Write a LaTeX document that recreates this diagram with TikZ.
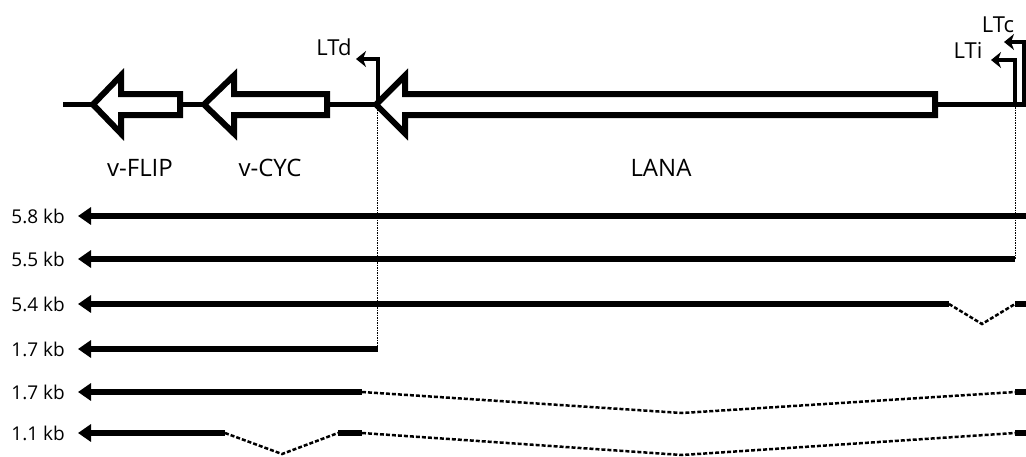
\documentclass[tikz,border=0pt]{standalone}
\usepackage{fontspec}
\setmainfont{Open Sans}
\usetikzlibrary{arrows.meta}
\tikzstyle{backbone} = [
    line width=5pt
]
\tikzstyle{gene} = [
    line width=6pt,
    miter limit=10,
    draw=black,
    fill=white
]
\tikzstyle{promoter} = [
    line width=4.5pt,
    -{Stealth[length=10pt,width=16pt,inset=3pt]}
]
\tikzstyle{transcript} = [
    line width=6pt,
    {Triangle[length=13pt,width=17pt]}-
]
\tikzstyle{exon} = [line width=6pt]
\tikzstyle{intron} = [
    line width=2.5pt,
    dash pattern=on 4pt off 2pt
]
\tikzstyle{guide} = [
    line width=0.9pt,
    dash pattern=on 1.5pt off 1pt
]
\tikzstyle{genelabel} = [
    font=\fontsize{24}{28}\selectfont,
    anchor=base,
    inner sep=0pt
]
\tikzstyle{promlabel} = [
    font=\fontsize{22}{26}\selectfont,
    anchor=base,
    inner sep=0pt
]
\tikzstyle{sizelabel} = [
    font=\fontsize{19}{22}\selectfont,
    anchor=base east,
    inner sep=0pt
]

\begin{document}
\begin{tikzpicture}[x=1pt, y=-1pt]

\useasboundingbox (0,0) rectangle (1026,456);

% genome backbone and genes
\draw [backbone] (63,104.5) -- (1030,104.5);

\draw [gene] (93,104.5) -- (121,75.5) -- (121,94) -- (180,94)
    -- (180,115) -- (121,115) -- (121,133.5) -- cycle;
\draw [gene] (204,104.5) -- (234,75.5) -- (234,94) -- (327,94)
    -- (327,115) -- (234,115) -- (234,133.5) -- cycle;
\draw [gene] (376,104.5) -- (405,75.5) -- (405,94) -- (935,94)
    -- (935,115) -- (405,115) -- (405,133.5) -- cycle;

\node (vflip) [genelabel] at (140,176) {v-FLIP};
\node (vcyc) [genelabel] at (270,176) {v-CYC};
\node (lana) [genelabel] at (661,176) {LANA};

% promoters
\draw [promoter] (378,104.5) -- (378,59) -- (356,59);
\node (ltd) [promlabel] at (334,55) {LTd};

\draw [promoter] (1015,104.5) -- (1015,60) -- (991,60);
\node (lti) [promlabel] at (968,58) {LTi};

\draw [promoter] (1024,104.5) -- (1024,42) -- (1004,42);
\node (ltc) [promlabel] at (998,32) {LTc};

% guides from promoters to transcript ends
\draw [guide] (377,104.5) -- (377,349);
\draw [guide] (1015,104.5) -- (1015,259);

% transcripts
\node (t58) [sizelabel] at (65,223) {5.8 kb};
\draw [transcript] (78,216) -- (1030,216);

\node (t55) [sizelabel] at (65,266) {5.5 kb};
\draw [transcript] (78,259) -- (1015,259);

\node (t54) [sizelabel] at (65,311) {5.4 kb};
\draw [transcript] (78,304) -- (949,304);
\draw [intron] (949,304) -- (982,324) -- (1015,304);
\draw [exon] (1015,304) -- (1030,304);

\node (t17a) [sizelabel] at (65,356) {1.7 kb};
\draw [transcript] (78,349) -- (378,349);

\node (t17b) [sizelabel] at (65,399) {1.7 kb};
\draw [transcript] (78,392) -- (362,392);
\draw [intron] (362,392) -- (682,413) -- (1015,392);
\draw [exon] (1015,392) -- (1030,392);

\node (t11) [sizelabel] at (65,440) {1.1 kb};
\draw [transcript] (78,433) -- (225,433);
\draw [intron] (225,433) -- (282,454) -- (338,433);
\draw [exon] (338,433) -- (362,433);
\draw [intron] (362,433) -- (682,455) -- (1015,433);
\draw [exon] (1015,433) -- (1030,433);

\end{tikzpicture}
\end{document}
